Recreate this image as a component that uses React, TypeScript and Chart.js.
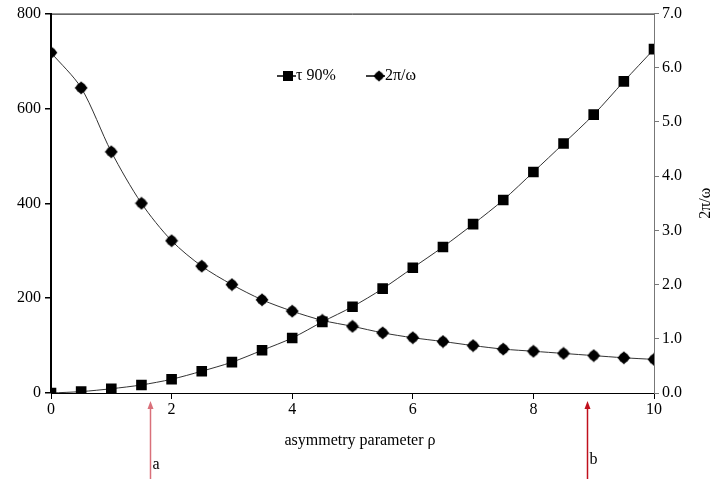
import React, { useEffect, useRef } from "react";
import { Chart, registerables } from "chart.js";

Chart.register(...registerables);

const rho = [0, 0.5, 1, 1.5, 2, 2.5, 3, 3.5, 4, 4.5, 5, 5.5, 6, 6.5, 7, 7.5, 8, 8.5, 9, 9.5, 10];
const tau90 = [0, 3, 9, 17, 29, 46, 65, 90, 116, 150, 182, 220, 264, 308, 356, 407, 466, 526, 587, 657, 725];
const period = [6.28, 5.63, 4.45, 3.5, 2.81, 2.34, 2.0, 1.72, 1.51, 1.34, 1.23, 1.11, 1.02, 0.95, 0.875, 0.81, 0.77, 0.73, 0.69, 0.65, 0.62];
const legendLabels = ["τ 90%", "2π/ω"];
const xTitle = "asymmetry parameter ρ";
const rightTitle = "2π/ω";
const arrowX = [1.64, 8.89];
const arrowLabels = ["a", "b"];

const FONT = "'Liberation Serif', 'Times New Roman', serif";

function makeDiamond(): HTMLCanvasElement {
  const c = document.createElement("canvas");
  c.width = 14;
  c.height = 14;
  const g = c.getContext("2d")!;
  g.fillStyle = "#000";
  g.beginPath();
  g.arc(7, 7, 5, 0, Math.PI * 2);
  g.fill();
  g.beginPath();
  g.moveTo(7, 0.5);
  g.lineTo(13.5, 7);
  g.lineTo(7, 13.5);
  g.lineTo(0.5, 7);
  g.closePath();
  g.fill();
  return c;
}

export default function App() {
  const ref = useRef<HTMLCanvasElement | null>(null);
  useEffect(() => {
    document.body.style.margin = "0";
    const diamond = makeDiamond();
    const annot = {
      id: "annot",
      afterDraw(chart: any) {
        const ctx = chart.ctx;
        const xs = chart.scales.x;
        const area = chart.chartArea;
        ctx.save();
        // top border
        ctx.strokeStyle = "#000";
        ctx.lineWidth = 1;
        ctx.beginPath();
        ctx.moveTo(area.left, area.top + 0.5);
        ctx.lineTo(area.right, area.top + 0.5);
        ctx.stroke();
        // legend
        ctx.font = `16px ${FONT}`;
        ctx.fillStyle = "#000";
        ctx.textBaseline = "middle";
        ctx.textAlign = "left";
        const ly = 76;
        ctx.lineWidth = 1.5;
        ctx.beginPath();
        ctx.moveTo(277, ly);
        ctx.lineTo(296, ly);
        ctx.stroke();
        ctx.fillRect(283, ly - 5, 10, 10);
        ctx.fillText(legendLabels[0], 296, ly);
        ctx.beginPath();
        ctx.moveTo(366, ly);
        ctx.lineTo(385, ly);
        ctx.stroke();
        ctx.drawImage(diamond, 373, ly - 6, 12, 12);
        ctx.fillText(legendLabels[1], 385, ly);
        // x title
        ctx.textAlign = "center";
        ctx.fillText(xTitle, 360, 441);
        // right title
        ctx.save();
        ctx.translate(706, (area.top + area.bottom) / 2);
        ctx.rotate(-Math.PI / 2);
        ctx.fillText(rightTitle, 0, 0);
        ctx.restore();
        // arrows
        const colors = ["#d9707a", "#c0101c"];
        arrowX.forEach((v, i) => {
          const px = Math.round(xs.getPixelForValue(v)) + 0.5;
          ctx.strokeStyle = colors[i];
          ctx.fillStyle = colors[i];
          ctx.lineWidth = 1.5;
          ctx.beginPath();
          ctx.moveTo(px, 479);
          ctx.lineTo(px, 406);
          ctx.stroke();
          ctx.beginPath();
          ctx.moveTo(px, 401);
          ctx.lineTo(px - 3, 409);
          ctx.lineTo(px + 3, 409);
          ctx.closePath();
          ctx.fill();
          ctx.fillStyle = "#000";
          ctx.textAlign = "left";
          ctx.fillText(arrowLabels[i], px + 2, i === 0 ? 465 : 460);
        });
        ctx.restore();
      },
    };
    const chart = new Chart(ref.current!, {
      type: "line",
      data: {
        datasets: [
          {
            label: legendLabels[0],
            data: rho.map((x, i) => ({ x, y: tau90[i] })),
            yAxisID: "y",
            borderColor: "#333",
            borderWidth: 1,
            backgroundColor: "#000",
            pointStyle: "rect",
            pointRadius: 7.5,
            pointBorderWidth: 0,
            pointBackgroundColor: "#000",
            tension: 0.3,
          },
          {
            label: legendLabels[1],
            data: rho.map((x, i) => ({ x, y: period[i] })),
            yAxisID: "y1",
            borderColor: "#333",
            borderWidth: 1,
            backgroundColor: "#000",
            pointStyle: diamond,
            pointRadius: 6,
            tension: 0.3,
          },
        ],
      },
      options: {
        animation: false,
        responsive: false,
        maintainAspectRatio: false,
        layout: { padding: { top: 11, left: 0, right: 0, bottom: 0 } },
        plugins: { legend: { display: false }, tooltip: { enabled: false } },
        scales: {
          x: {
            type: "linear",
            min: 0,
            max: 10,
            ticks: { stepSize: 2, color: "#000", font: { family: FONT, size: 16 }, padding: 1, maxRotation: 0 },
            grid: { drawOnChartArea: false, tickLength: 6, color: "#000" },
            border: { color: "#000", width: 1 },
            afterFit: (s: any) => { s.height = 91; },
          },
          y: {
            position: "left",
            min: 0,
            max: 800,
            ticks: { stepSize: 200, color: "#000", font: { family: FONT, size: 16 }, padding: 4 },
            grid: { drawOnChartArea: false, tickLength: 6, color: "#000", lineWidth: 1.5 },
            border: { color: "#000", width: 2 },
            afterFit: (s: any) => { s.width = 51; },
          },
          y1: {
            position: "right",
            min: 0,
            max: 7,
            ticks: { stepSize: 1, color: "#000", font: { family: FONT, size: 16 }, padding: 3, callback: (v: any) => Number(v).toFixed(1) },
            grid: { drawOnChartArea: false, tickLength: 5, color: "#777" },
            border: { color: "#777", width: 1 },
            afterFit: (s: any) => { s.width = 66; },
          },
        },
      },
      plugins: [annot],
    });
    return () => chart.destroy();
  }, []);
  return <canvas ref={ref} width={720} height={484} style={{ display: "block" }} />;
}
